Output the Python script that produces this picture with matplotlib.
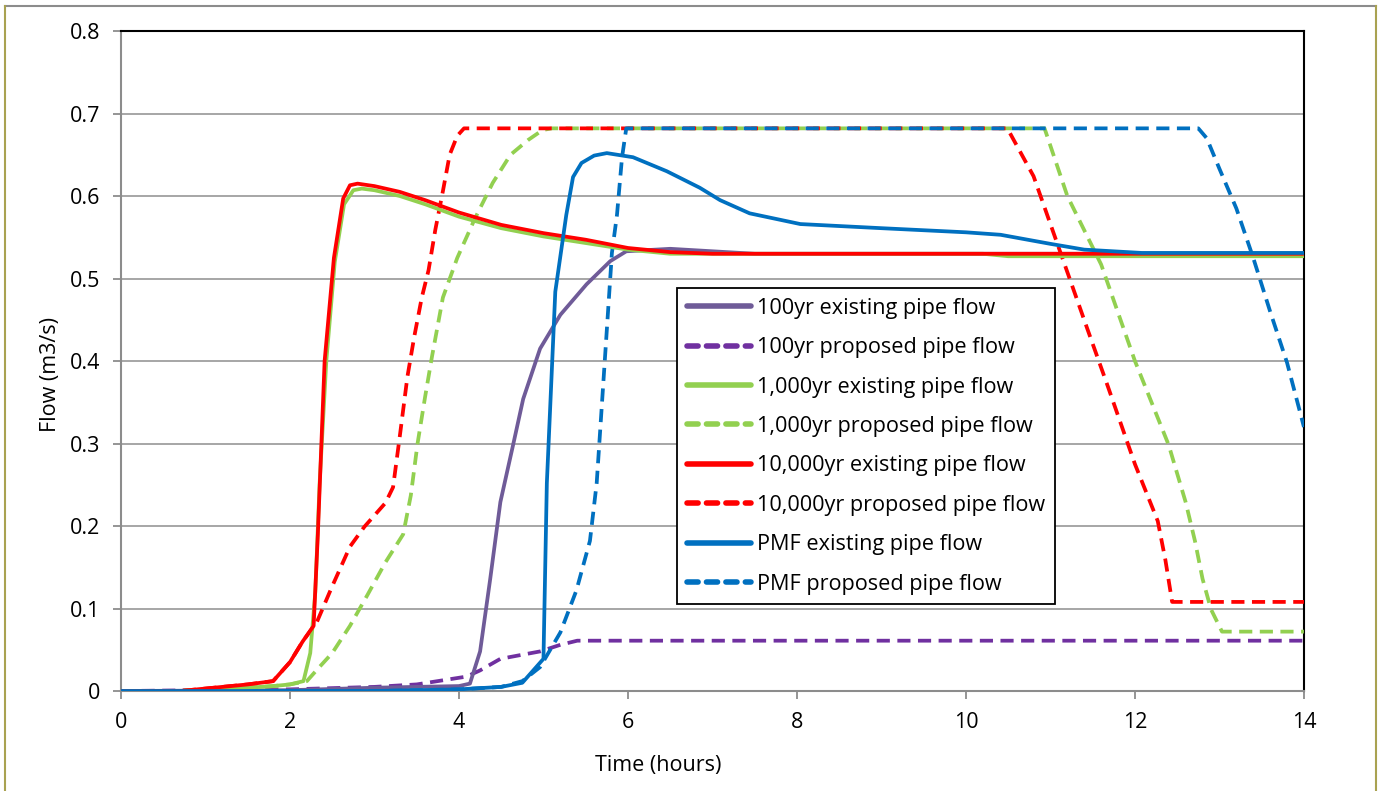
import matplotlib.pyplot as plt
from matplotlib.lines import Line2D

plt.rcParams['font.family'] = ['Open Sans', 'DejaVu Sans']

# 100yr
t_100_ex = [0, 2.0, 3.0, 4.0, 4.13, 4.25, 4.37, 4.49, 4.64, 4.76, 4.96, 5.2, 5.51, 5.79, 5.98, 6.5, 7.0, 7.5, 14]
q_100_ex = [0, 0.001, 0.004, 0.006, 0.009, 0.048, 0.136, 0.229, 0.298, 0.354, 0.415, 0.456, 0.493, 0.521, 0.533, 0.536, 0.533, 0.530, 0.530]
t_100_pr = [0, 2.0, 3.0, 3.5, 4.09, 4.25, 4.49, 4.75, 4.96, 5.2, 5.4, 14]
q_100_pr = [0, 0.002, 0.005, 0.008, 0.0175, 0.025, 0.039, 0.044, 0.048, 0.056, 0.061, 0.061]

# 1,000yr
t_1k_ex = [0, 0.7, 1.0, 1.5, 1.8, 2.0, 2.16, 2.24, 2.3, 2.35, 2.43, 2.53, 2.64, 2.75, 2.85, 3.0, 3.3, 3.6, 4.0, 4.5,
           5.0, 5.5, 6.0, 6.5, 7.0, 10.2, 10.5, 14]
q_1k_ex = [0, 0, 0.002, 0.004, 0.006, 0.008, 0.012, 0.046, 0.12, 0.25, 0.40, 0.52, 0.59, 0.607, 0.609, 0.607, 0.600,
           0.590, 0.575, 0.561, 0.551, 0.543, 0.535, 0.530, 0.530, 0.530, 0.527, 0.527]
t_1k_pr = [0, 0.7, 1.0, 1.5, 1.8, 2.0, 2.2, 2.33, 2.5, 2.71, 2.92, 3.13, 3.34, 3.43, 3.51, 3.6, 3.68, 3.81, 3.98, 4.19,
           4.4, 4.61, 4.82, 4.99, 5.1, 10.93, 11.2, 11.6, 12.0, 12.4, 12.6, 12.71, 12.8, 12.9, 13.03, 14]
q_1k_pr = [0, 0, 0.002, 0.004, 0.006, 0.008, 0.012, 0.027, 0.046, 0.079, 0.117, 0.156, 0.19, 0.237, 0.30, 0.357,
           0.405, 0.477, 0.525, 0.573, 0.616, 0.65, 0.668, 0.68, 0.682, 0.682, 0.60, 0.517, 0.40, 0.298, 0.229,
           0.182, 0.136, 0.099, 0.072, 0.072]

# 10,000yr
t_10k_ex = [0, 0.7, 1.0, 1.5, 1.8, 2.0, 2.15, 2.28, 2.33, 2.41, 2.52, 2.63, 2.71, 2.8, 3.0, 3.3, 3.6, 4.0, 4.5, 5.0,
            5.5, 6.0, 6.5, 7.0, 14]
q_10k_ex = [0, 0, 0.003, 0.008, 0.012, 0.035, 0.06, 0.079, 0.19, 0.40, 0.525, 0.597, 0.613, 0.615, 0.612, 0.605,
            0.595, 0.58, 0.565, 0.555, 0.547, 0.537, 0.532, 0.53, 0.53]
t_10k_pr = [0, 0.7, 1.0, 1.5, 1.8, 2.0, 2.15, 2.32, 2.5, 2.71, 2.88, 3.13, 3.22, 3.30, 3.39, 3.47, 3.56, 3.64, 3.72,
            3.81, 3.89, 3.98, 4.06, 10.49, 10.8, 11.12, 11.44, 11.68, 12.0, 12.27, 12.36, 12.44, 14]
q_10k_pr = [0, 0, 0.003, 0.008, 0.012, 0.035, 0.06, 0.084, 0.127, 0.175, 0.199, 0.228, 0.247, 0.309, 0.381, 0.429,
            0.477, 0.51, 0.559, 0.606, 0.65, 0.673, 0.682, 0.682, 0.624, 0.531, 0.438, 0.369, 0.275, 0.206, 0.159,
            0.108, 0.108]

# PMF
t_pmf_ex = [0, 3.0, 4.0, 4.5, 4.75, 5.0, 5.04, 5.14, 5.27, 5.35, 5.45, 5.6, 5.75, 6.06, 6.46, 6.85, 7.09, 7.44, 8.04,
            9.0, 10.0, 10.41, 11.0, 11.4, 12.08, 14]
q_pmf_ex = [0, 0, 0.002, 0.005, 0.01, 0.039, 0.252, 0.484, 0.577, 0.623, 0.64, 0.649, 0.652, 0.647, 0.630, 0.61, 0.595,
            0.579, 0.566, 0.561, 0.556, 0.553, 0.542, 0.535, 0.531, 0.531]
t_pmf_pr = [0, 3.0, 4.0, 4.5, 4.75, 4.96, 5.2, 5.39, 5.55, 5.63, 5.69, 5.75, 5.81, 5.87, 5.93, 5.98, 12.75, 12.85, 13.0,
            13.2, 13.4, 13.6, 13.8, 14]
q_pmf_pr = [0, 0, 0.002, 0.005, 0.012, 0.029, 0.071, 0.122, 0.182, 0.252, 0.345, 0.438, 0.531, 0.577, 0.647, 0.682,
            0.682, 0.67, 0.633, 0.585, 0.525, 0.46, 0.398, 0.32]

labels = ['100yr existing pipe flow', '100yr proposed pipe flow',
          '1,000yr existing pipe flow', '1,000yr proposed pipe flow',
          '10,000yr existing pipe flow', '10,000yr proposed pipe flow',
          'PMF existing pipe flow', 'PMF proposed pipe flow']
colors = ['#6F5B98', '#7030A0', '#92D050', '#92D050', '#FF0000', '#FF0000', '#0070C0', '#0070C0']
series = [(t_100_ex, q_100_ex), (t_100_pr, q_100_pr), (t_1k_ex, q_1k_ex), (t_1k_pr, q_1k_pr),
          (t_10k_ex, q_10k_ex), (t_10k_pr, q_10k_pr), (t_pmf_ex, q_pmf_ex), (t_pmf_pr, q_pmf_pr)]

fig = plt.figure(figsize=(13.81, 7.91), dpi=100)
ax = fig.add_axes([0.0876, 0.1264, 0.8566, 0.8344])

# drawing order: proposed under existing roughly as in the original
order = [1, 0, 3, 5, 7, 2, 4, 6]
for i in order:
    t, q = series[i]
    ls = '-' if i % 2 == 0 else (0, (3.5, 2))
    ax.plot(t, q, color=colors[i], lw=2.7, linestyle=ls, solid_capstyle='round',
            dash_capstyle='butt', solid_joinstyle='round', label=labels[i], zorder=3)

ax.set_xlim(0, 14)
ax.set_ylim(0, 0.8)
ax.set_xticks(range(0, 15, 2))
ax.set_yticks([0, 0.1, 0.2, 0.3, 0.4, 0.5, 0.6, 0.7, 0.8])
ax.set_yticklabels(['0', '0.1', '0.2', '0.3', '0.4', '0.5', '0.6', '0.7', '0.8'])
ax.tick_params(axis='both', length=6, width=1.3, color='#8C8C8C', labelsize=15.5, pad=9)
ax.grid(axis='y', color='#A6A6A6', lw=1.4, zorder=0)
ax.set_axisbelow(True)
for s in ['left', 'bottom']:
    ax.spines[s].set_color('#8C8C8C')
    ax.spines[s].set_linewidth(1.5)
for s in ['top', 'right']:
    ax.spines[s].set_color('black')
    ax.spines[s].set_linewidth(1.5)

ax.set_xlabel('Time (hours)', fontsize=15.5, labelpad=16)
ax.set_ylabel('Flow (m3/s)', fontsize=15.5, labelpad=6)
ax.xaxis.label.set_x(0.454)
ax.yaxis.label.set_y(0.479)

leg_handles = [Line2D([0], [0], color=colors[i], lw=4, solid_capstyle='round', dash_capstyle='round',
                      linestyle='-' if i % 2 == 0 else (0, (2.0, 1.5))) for i in range(8)]
leg = ax.legend(leg_handles, labels, loc='upper left', bbox_to_anchor=(0.470, 0.6106),
                fontsize=15.6, frameon=True, fancybox=False, edgecolor='black',
                framealpha=1, handlelength=2.95, handletextpad=0.3, labelspacing=0.85,
                borderpad=0.45, borderaxespad=0)
leg.get_frame().set_linewidth(1.3)
leg.set_zorder(5)

# outer chart frame
fig.add_artist(Line2D([5 / 1381, 1376 / 1381], [1 - 6 / 791, 1 - 6 / 791], transform=fig.transFigure,
                      color='#8C8C8C', lw=1.5))
fig.add_artist(Line2D([5 / 1381, 5 / 1381], [0, 1 - 6 / 791], transform=fig.transFigure,
                      color='#A9A251', lw=1.5))
fig.add_artist(Line2D([1376 / 1381, 1376 / 1381], [0, 1 - 6 / 791], transform=fig.transFigure,
                      color='#A9A251', lw=1.5))

fig.savefig('out.png', dpi=100)
